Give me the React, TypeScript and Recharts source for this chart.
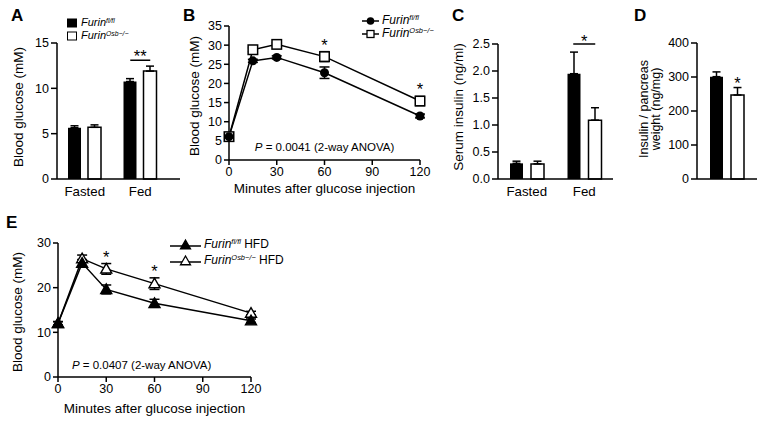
import React from "react"
import { BarChart, Bar, LineChart, Line, XAxis, YAxis, ErrorBar, ReferenceDot, LabelList } from "recharts"

const FONT = '"Liberation Sans", Arial, Helvetica, sans-serif'
const INK = "#000"

// A: blood glucose, fasted / fed
const groupsA = ["Fasted", "Fed"]
const flA = [5.65, 10.75]
const flAErr = [0.22, 0.32]
const osbA = [5.7, 11.9]
const osbAErr = [0.27, 0.55]
const ticksA = [0, 5, 10, 15]
const sigA = 13.1

// B: glucose tolerance test, chow
const minutes = [0, 15, 30, 60, 120]
const minuteTicks = [0, 30, 60, 90, 120]
const flB = [6.1, 25.9, 26.8, 22.8, 11.5]
const flBErr = [0.3, 0.4, 0.4, 1.5, 0.5]
const osbB = [6.1, 28.8, 30.2, 27.0, 15.4]
const osbBErr = [0.3, 0.5, 0.4, 1.3, 1.2]
const ticksB = [0, 5, 10, 15, 20, 25, 30, 35]
const sigB = [60, 120]

// C: serum insulin
const flC = [0.29, 1.95]
const flCErr = [0.04, 0.4]
const osbC = [0.28, 1.09]
const osbCErr = [0.05, 0.23]
const ticksC = [0, 0.5, 1, 1.5, 2, 2.5]
const sigC = 2.5

// D: insulin / pancreas weight
const groupsD = ["Pancreas"]
const flD = [301]
const flDErr = [14]
const osbD = [247]
const osbDErr = [22]
const ticksD = [0, 100, 200, 300, 400]

// E: glucose tolerance test, HFD
const flE = [12.0, 25.5, 19.6, 16.5, 12.6]
const flEErr = [0.4, 0.8, 1.0, 0.9, 0.4]
const osbE = [12.0, 26.5, 24.2, 20.9, 14.3]
const osbEErr = [0.4, 0.8, 1.2, 1.3, 0.4]
const ticksE = [0, 10, 20, 30]
const sigE = [30, 60]

const barRows = (groups: string[], fl: number[], flErr: number[], osb: number[], osbErr: number[]) =>
  groups.map((g, i) => ({ group: g, fl: fl[i], flErr: [0, flErr[i]], osb: osb[i], osbErr: [0, osbErr[i]] }))

const lineRows = (fl: number[], flErr: number[], osb: number[], osbErr: number[]) =>
  minutes.map((t, i) => ({ t, fl: fl[i], flErr: flErr[i], osb: osb[i], osbErr: osbErr[i] }))

const dataA = barRows(groupsA, flA, flAErr, osbA, osbAErr)
const dataB = lineRows(flB, flBErr, osbB, osbBErr)
const dataC = barRows(groupsA, flC, flCErr, osbC, osbCErr)
const dataD = barRows(groupsD, flD, flDErr, osbD, osbDErr)
const dataE = lineRows(flE, flEErr, osbE, osbEErr)

const axisLine = { stroke: INK, strokeWidth: 1.5 }
const tickNum = { fill: INK, fontSize: 12.5 }
const tickCat = { fill: INK, fontSize: 13.3 }
const STAR = 16.5

// rotated axis title; px = horizontal centre of the text block
function YTitle(props: any) {
  const { viewBox, lines, px, size = 13.5, gap = 12, shift = 0 } = props
  const cy = Math.round(viewBox.y + viewBox.height / 2 + shift)
  const n = lines.length
  return (
    <g transform={`translate(${px} ${cy}) rotate(-90)`}>
      {lines.map((l: string, i: number) => (
        <text key={i} x={0} y={(i - (n - 1) / 2) * gap + size * 0.36} textAnchor="middle" fontSize={size} fill={INK}>
          {l}
        </text>
      ))}
    </g>
  )
}

// markers
const dotCircle = (p: any) => <circle key={`c${p.index}`} cx={p.cx} cy={p.cy} r={4.5} fill={INK} />
const dotSquare = (p: any) => (
  <rect key={`s${p.index}`} x={p.cx - 4.75} y={p.cy - 4.75} width={9.5} height={9.5} fill="#fff" stroke={INK} strokeWidth={1.5} />
)
const triPath = (cx: number, cy: number, s: number) => `M${cx},${cy - s} L${cx + s},${cy + s * 0.75} L${cx - s},${cy + s * 0.75} Z`
const dotTri = (fill: string) => (p: any) => (
  <path key={`t${fill}${p.index}`} d={triPath(p.cx, p.cy, 5.5)} fill={fill} stroke={INK} strokeWidth={1.4} />
)

// significance marks
const sigShape = (text: string, half: number, lift: number) => (p: any) => (
  <g>
    {half > 0 && <line x1={p.cx - half} x2={p.cx + half} y1={p.cy} y2={p.cy} stroke={INK} strokeWidth={1.5} />}
    <text x={p.cx} y={p.cy - lift} textAnchor="middle" fontSize={STAR} fill={INK}>
      {text}
    </text>
  </g>
)

const pNote = (value: string) => (p: any) => (
  <text x={p.cx} y={p.cy + 4} textAnchor="middle" fontSize={11.5} fill={INK}>
    <tspan fontStyle="italic">P</tspan> = {value} (2-way ANOVA)
  </text>
)

function Furin({ sup, suffix }: { sup: string; suffix?: string }) {
  return (
    <span>
      <i>Furin</i>
      <span style={{ fontSize: "0.62em", position: "relative", top: "-0.5em", fontStyle: "italic" }}>{sup}</span>
      {suffix ? ` ${suffix}` : ""}
    </span>
  )
}

function LegendRow({ left, top, w, size, marker, children }: any) {
  return (
    <div style={{ position: "absolute", left, top: top - 8, height: 16, display: "flex", alignItems: "center", fontSize: size, lineHeight: "16px", whiteSpace: "nowrap" }}>
      <svg width={w} height={16} style={{ display: "block" }}>
        {marker}
      </svg>
      <span style={{ marginLeft: 3 }}>{children}</span>
    </div>
  )
}

const Letter = ({ x, y, t }: { x: number; y: number; t: string }) => (
  <div style={{ position: "absolute", left: x, top: y, fontSize: 17, fontWeight: 900, lineHeight: "17px" }}>{t}</div>
)

export default function App() {
  return (
    <div style={{ position: "absolute", left: 0, top: 0, width: 768, height: 425, background: "#fff", fontFamily: FONT, color: INK, overflow: "hidden" }}>
      {/* A */}
      <div style={{ position: "absolute", left: 0, top: 0 }}>
        <BarChart width={190} height={205} data={dataA} margin={{ top: 43, right: 10, bottom: 0, left: 0 }} barSize={13} barGap={7}>
          <XAxis dataKey="group" tickLine={false} axisLine={axisLine} tick={tickCat} height={26} padding={{ left: 0, right: 12 }} interval={0} />
          <YAxis width={57} domain={[0, 15]} ticks={ticksA} interval={0} tick={tickNum} axisLine={axisLine} tickLine={axisLine}
            label={<YTitle px={18} shift={-4} lines={["Blood glucose (mM)"]} />} />
          <Bar dataKey="fl" fill={INK} isAnimationActive={false}>
            <ErrorBar dataKey="flErr" width={4} stroke={INK} strokeWidth={1.5} direction="y" />
          </Bar>
          <Bar dataKey="osb" fill="#fff" stroke={INK} strokeWidth={1.5} isAnimationActive={false}>
            <ErrorBar dataKey="osbErr" width={4} stroke={INK} strokeWidth={1.5} direction="y" />
          </Bar>
          <ReferenceDot x="Fed" y={sigA} r={0} shape={sigShape("**", 10, -1.5)} />
        </BarChart>
      </div>

      {/* B */}
      <div style={{ position: "absolute", left: 180, top: 0 }}>
        <LineChart width={260} height={205} data={dataB} margin={{ top: 26, right: 20, bottom: 0, left: 0 }}>
          <XAxis dataKey="t" type="number" domain={[0, 120]} ticks={minuteTicks} interval={0} tick={tickNum} axisLine={axisLine} tickLine={axisLine} tickSize={5} height={45}
            label={{ value: "Minutes after glucose injection", position: "insideBottom", offset: 12, fill: INK, fontSize: 13.5 }} />
          <YAxis width={49} domain={[0, 35]} ticks={ticksB} interval={0} tick={tickNum} axisLine={axisLine} tickLine={axisLine} tickSize={5}
            label={<YTitle px={14} shift={3} lines={["Blood glucose (mM)"]} />} />
          <Line dataKey="osb" type="linear" stroke={INK} strokeWidth={1.5} dot={dotSquare} activeDot={false} isAnimationActive={false}>
            <ErrorBar dataKey="osbErr" width={5} stroke={INK} strokeWidth={1.5} direction="y" />
          </Line>
          <Line dataKey="fl" type="linear" stroke={INK} strokeWidth={1.5} dot={dotCircle} activeDot={false} isAnimationActive={false}>
            <ErrorBar dataKey="flErr" width={5} stroke={INK} strokeWidth={1.5} direction="y" />
          </Line>
          {sigB.map((t) => {
            const i = minutes.indexOf(t)
            return <ReferenceDot key={t} x={t} y={osbB[i] + osbBErr[i]} r={0} shape={sigShape("*", 0, 1)} />
          })}
          <ReferenceDot x={60} y={3.4} r={0} shape={pNote("0.0041")} />
        </LineChart>
      </div>

      {/* C */}
      <div style={{ position: "absolute", left: 440, top: 0 }}>
        <BarChart width={180} height={205} data={dataC} margin={{ top: 44, right: 7, bottom: 0, left: 0 }} barSize={13} barGap={8}>
          <XAxis dataKey="group" tickLine={false} axisLine={axisLine} tick={tickCat} height={26} interval={0} />
          <YAxis width={58} domain={[0, 2.5]} ticks={ticksC} interval={0} tick={tickNum} axisLine={axisLine} tickLine={axisLine}
            tickFormatter={(v: number) => v.toFixed(1)}
            label={<YTitle px={18} shift={-5} lines={["Serum insulin (ng/ml)"]} />} />
          <Bar dataKey="fl" fill={INK} isAnimationActive={false}>
            <ErrorBar dataKey="flErr" width={4} stroke={INK} strokeWidth={1.5} direction="y" />
          </Bar>
          <Bar dataKey="osb" fill="#fff" stroke={INK} strokeWidth={1.5} isAnimationActive={false}>
            <ErrorBar dataKey="osbErr" width={4} stroke={INK} strokeWidth={1.5} direction="y" />
          </Bar>
          <ReferenceDot x="Fed" y={sigC} r={0} shape={sigShape("*", 11, -3)} />
        </BarChart>
      </div>

      {/* D */}
      <div style={{ position: "absolute", left: 610, top: 0 }}>
        <BarChart width={158} height={205} data={dataD} margin={{ top: 43, right: 11, bottom: 0, left: 0 }} barSize={13} barGap={8}>
          <XAxis dataKey="group" tick={false} tickLine={false} axisLine={axisLine} height={26} />
          <YAxis width={87} domain={[0, 400]} ticks={ticksD} interval={0} tick={tickNum} axisLine={axisLine} tickLine={axisLine}
            label={<YTitle px={39} size={12.5} gap={12} shift={-2} lines={["Insulin / pancreas", "weight (ng/mg)"]} />} />
          <Bar dataKey="fl" fill={INK} isAnimationActive={false}>
            <ErrorBar dataKey="flErr" width={4} stroke={INK} strokeWidth={1.5} direction="y" />
          </Bar>
          <Bar dataKey="osb" fill="#fff" stroke={INK} strokeWidth={1.5} isAnimationActive={false}>
            <ErrorBar dataKey="osbErr" width={4} stroke={INK} strokeWidth={1.5} direction="y" />
            <LabelList dataKey="osb" content={(p: any) => (
              <text x={p.x + p.width / 2} y={p.y - 6} textAnchor="middle" fontSize={STAR} fill={INK}>*</text>
            )} />
          </Bar>
        </BarChart>
      </div>

      {/* E */}
      <div style={{ position: "absolute", left: 0, top: 210 }}>
        <LineChart width={300} height={215} data={dataE} margin={{ top: 33, right: 49, bottom: 0, left: 0 }}>
          <XAxis dataKey="t" type="number" domain={[0, 120]} ticks={minuteTicks} interval={0} tick={tickNum} axisLine={axisLine} tickLine={axisLine} tickSize={5} height={48}
            label={{ value: "Minutes after glucose injection", position: "insideBottom", offset: 12, fill: INK, fontSize: 13.5 }} />
          <YAxis width={58} domain={[0, 30]} ticks={ticksE} interval={0} tick={tickNum} axisLine={axisLine} tickLine={axisLine} tickSize={5}
            label={<YTitle px={17} shift={2} lines={["Blood glucose (mM)"]} />} />
          <Line dataKey="osb" type="linear" stroke={INK} strokeWidth={1.5} dot={dotTri("#fff")} activeDot={false} isAnimationActive={false}>
            <ErrorBar dataKey="osbErr" width={5} stroke={INK} strokeWidth={1.5} direction="y" />
          </Line>
          <Line dataKey="fl" type="linear" stroke={INK} strokeWidth={1.5} dot={dotTri(INK)} activeDot={false} isAnimationActive={false}>
            <ErrorBar dataKey="flErr" width={5} stroke={INK} strokeWidth={1.5} direction="y" />
          </Line>
          {sigE.map((t) => {
            const i = minutes.indexOf(t)
            return <ReferenceDot key={t} x={t} y={osbE[i] + osbEErr[i]} r={0} shape={sigShape("*", 0, 1)} />
          })}
          <ReferenceDot x={52} y={2.7} r={0} shape={pNote("0.0407")} />
        </LineChart>
      </div>

      {/* legends */}
      <LegendRow left={66} top={23} w={12} size={11} marker={<rect x={1} y={3.5} width={10} height={9} fill={INK} />}>
        <Furin sup="fl/fl" />
      </LegendRow>
      <LegendRow left={66} top={36} w={12} size={11} marker={<rect x={1.5} y={4} width={9} height={8} fill="#fff" stroke={INK} strokeWidth={1} />}>
        <Furin sup="Osb−/−" />
      </LegendRow>

      <LegendRow left={362} top={21} w={17} size={12} marker={<g><line x1={0} x2={17} y1={8} y2={8} stroke={INK} strokeWidth={1.5} /><circle cx={8.5} cy={8} r={3.8} fill={INK} /></g>}>
        <Furin sup="fl/fl" />
      </LegendRow>
      <LegendRow left={362} top={34} w={17} size={12} marker={<g><line x1={0} x2={17} y1={8} y2={8} stroke={INK} strokeWidth={1.5} /><rect x={5} y={4.5} width={7} height={7} fill="#fff" stroke={INK} strokeWidth={1.3} /></g>}>
        <Furin sup="Osb−/−" />
      </LegendRow>

      <LegendRow left={170} top={245} w={31} size={12} marker={<g><line x1={0} x2={31} y1={9} y2={9} stroke={INK} strokeWidth={1.5} /><path d={triPath(15.5, 8, 5)} fill={INK} stroke={INK} strokeWidth={1.3} /></g>}>
        <Furin sup="fl/fl" suffix="HFD" />
      </LegendRow>
      <LegendRow left={170} top={261} w={31} size={12} marker={<g><line x1={0} x2={31} y1={9} y2={9} stroke={INK} strokeWidth={1.5} /><path d={triPath(15.5, 8, 5)} fill="#fff" stroke={INK} strokeWidth={1.3} /></g>}>
        <Furin sup="Osb−/−" suffix="HFD" />
      </LegendRow>

      <Letter x={11} y={7} t="A" />
      <Letter x={183} y={7} t="B" />
      <Letter x={452} y={7} t="C" />
      <Letter x={634} y={7} t="D" />
      <Letter x={6} y={214} t="E" />
    </div>
  )
}
